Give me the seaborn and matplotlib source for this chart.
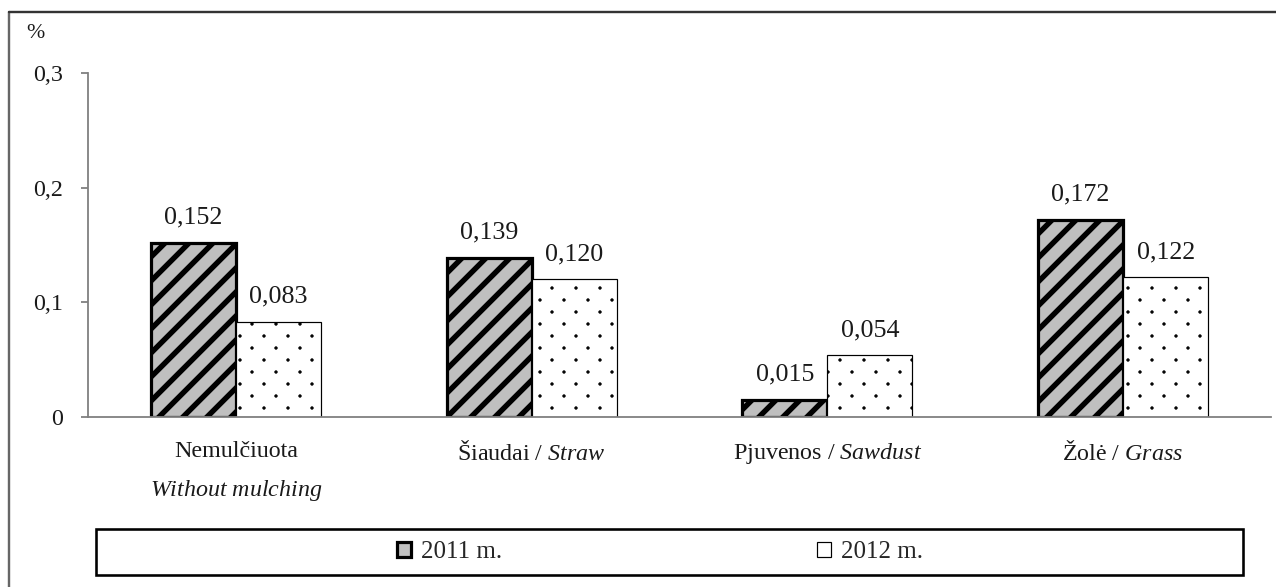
import matplotlib
matplotlib.use("Agg")
import numpy as np
import matplotlib.pyplot as plt
import matplotlib.patches as mpatches
import matplotlib.hatch as mhatch
from matplotlib.lines import Line2D
from matplotlib.path import Path
import seaborn as sns
import pandas as pd

# Mulch treatments and measured values (%) for the two seasons
categories = [
    "Nemulčiuota\n$\\mathit{Without\\ mulching}$",
    "Šiaudai / $\\mathit{Straw}$",
    "Pjuvenos / $\\mathit{Sawdust}$",
    "Žolė / $\\mathit{Grass}$",
]
years = ["2011 m.", "2012 m."]
values_2011 = [0.152, 0.139, 0.015, 0.172]
values_2012 = [0.083, 0.120, 0.054, 0.122]
y_ticks = [0, 0.1, 0.2, 0.3]
y_tick_labels = ["0", "0,1", "0,2", "0,3"]


class FineDots(mhatch.HatchPatternBase):
    """Small filled dots on a staggered (diamond) lattice for the '.' hatch."""
    rows_per_unit = 12   # dot rows per hatch tile
    cols_per_unit = 6    # dots per row per hatch tile
    radius = 1.25 / 144  # dot radius in tile units

    def __init__(self, hatch, density):
        n = hatch.count(".")
        self.num_rows = self.rows_per_unit * n
        self.num_cols = self.cols_per_unit * n
        circle = Path.unit_circle()
        self.shape_vertices = circle.vertices * self.radius
        self.shape_codes = circle.codes
        if self.num_rows == 0:
            self.num_vertices = 0
            return
        self.centres = []
        for row in range(self.num_rows + 1):
            y = row / self.num_rows
            if row % 2 == 0:
                xs = np.arange(self.num_cols + 1) / self.num_cols
            else:
                xs = (np.arange(self.num_cols) + 0.5) / self.num_cols
            self.centres.extend((x, y) for x in xs)
        self.num_vertices = len(self.centres) * len(self.shape_vertices)

    def set_vertices_and_codes(self, vertices, codes):
        verts = [self.shape_vertices + c for c in self.centres]
        cds = [self.shape_codes] * len(self.centres)
        np.concatenate(verts, out=vertices)
        np.concatenate(cds, out=codes)


mhatch._hatch_types = [t for t in mhatch._hatch_types
                       if t is not mhatch.SmallFilledCircles] + [FineDots]

sns.set_theme(style="white")
plt.rcParams["font.family"] = ["Liberation Serif", "DejaVu Serif"]
plt.rcParams["mathtext.fontset"] = "custom"
plt.rcParams["mathtext.rm"] = "Liberation Serif"
plt.rcParams["mathtext.it"] = "Liberation Serif:italic"
plt.rcParams["hatch.linewidth"] = 2.6

df = pd.DataFrame({
    "category": categories * 2,
    "year": [years[0]] * len(categories) + [years[1]] * len(categories),
    "value": values_2011 + values_2012,
})

DPI = 144
fig = plt.figure(figsize=(1276 / DPI, 587 / DPI), dpi=DPI)
ax = fig.add_axes([88 / 1276, 170 / 587, 1183 / 1276, 344 / 587])

gray = "#bfbfbf"
axis_gray = "#808080"
text_col = "#1a1a1a"

sns.barplot(data=df, x="category", y="value", hue="year",
            palette=[gray, "white"], saturation=1, width=0.575,
            errorbar=None, legend=False, edgecolor="black", ax=ax)

# Hatch and outline styling for each season
styles = [
    dict(hatch="//", lw=1.6, hatch_lw=2.7),
    dict(hatch=".", lw=0.6, hatch_lw=0.4),
]
for cont, st in zip(ax.containers, styles):
    for bar in cont:
        bar.set_hatch(st["hatch"])
        bar.set_linewidth(st["lw"])
        bar.set_edgecolor("black")
        if hasattr(bar, "set_hatch_linewidth"):
            bar.set_hatch_linewidth(st["hatch_lw"])
    ax.bar_label(cont, fmt=lambda v: f"{v:.3f}".replace(".", ","),
                 padding=7, fontsize=13, color=text_col)

ax.set_ylim(0, 0.3)
ax.set_xlim(-0.5, 3.5)
ax.set_yticks(y_ticks)
ax.set_yticklabels(y_tick_labels, fontsize=12, color=text_col)
ax.set_xlabel("")
ax.set_ylabel("")
ax.set_xticks(range(len(categories)))
ax.set_xticklabels(categories, fontsize=12, color=text_col, linespacing=1.9)
ax.set_xticks([-0.5, 0.5, 1.5, 2.5, 3.5], minor=True)
ax.tick_params(axis="x", which="major", length=0, pad=12)
ax.tick_params(axis="x", which="minor", direction="out", length=3, width=0.9,
               color=axis_gray)
ax.tick_params(axis="y", direction="out", length=3.5, width=0.9,
               color=axis_gray, pad=9, left=True)

for side in ["top", "right"]:
    ax.spines[side].set_visible(False)
for side in ["left", "bottom"]:
    ax.spines[side].set_color(axis_gray)
    ax.spines[side].set_linewidth(0.9)

fig.text(26 / 1276, 1 - 33 / 587, "%", fontsize=11, color=text_col,
         va="center", ha="left")

# Legend frame and entries
fig.patches.append(mpatches.Rectangle(
    (96 / 1276, 1 - 575 / 587), 1147 / 1276, 46 / 587,
    transform=fig.transFigure, fill=False, edgecolor="black", linewidth=1.3))
handles = [
    mpatches.Patch(facecolor=gray, edgecolor="black", linewidth=1.6),
    mpatches.Patch(facecolor="white", edgecolor="black", linewidth=0.6),
]
fig.legend(handles, years, loc="center", ncol=2,
           bbox_to_anchor=(660 / 1276, 1 - 552 / 587),
           bbox_transform=fig.transFigure, frameon=False, fontsize=12.5,
           handlelength=0.55, handleheight=0.55, handletextpad=0.4,
           columnspacing=12.6, borderpad=0)

# Outer frame lines
fig.add_artist(Line2D([9 / 1276, 9 / 1276], [0, 1 - 12 / 587],
                      transform=fig.transFigure, color="#666666", linewidth=1.2))
fig.add_artist(Line2D([9 / 1276, 1], [1 - 12 / 587, 1 - 12 / 587],
                      transform=fig.transFigure, color="#333333", linewidth=1.2))

fig.savefig("out.png", dpi=DPI, facecolor="white")
